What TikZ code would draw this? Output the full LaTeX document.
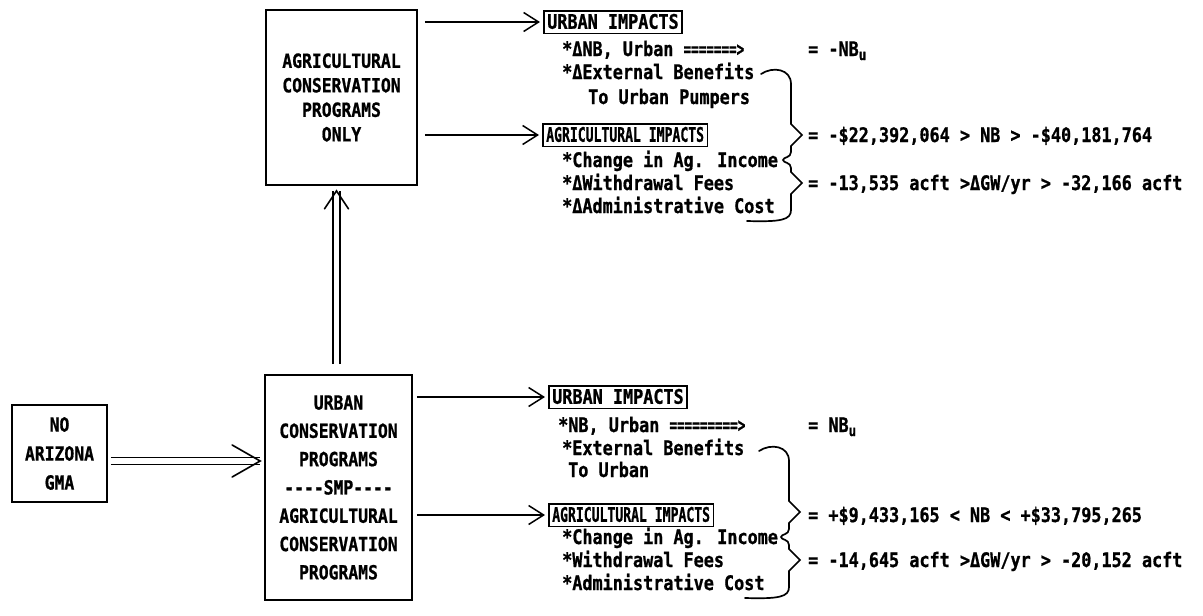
\documentclass[tikz,border=0pt]{standalone}
\usepackage{fontspec}
\usepackage{graphicx}
\usetikzlibrary{arrows.meta}
\newfontfamily\typeface{DejaVu Sans Mono}[FakeStretch=0.84, BoldFeatures={FakeBold=0.9}]
\newcommand\squeeze[2][0.75]{\scalebox{#1}[1]{#2}}
\newcommand\subu{\raisebox{-4pt}{\fontsize{15}{15}\selectfont u}}

\tikzset{
  every node/.style={font=\typeface\bfseries\fontsize{20}{24}\selectfont},
  bigbox/.style={draw, line width=1.7pt, align=center, inner sep=0pt},
  tag/.style={draw, line width=1.5pt, anchor=west, inner sep=3.5pt,
    text height=14.5pt, text depth=1pt},
  item/.style={anchor=base west, inner sep=0pt},
  arr/.style={line width=1.4pt,
    -{Straight Barb[length=15pt,width=19pt,line width=1.5pt]}},
  rail/.style={line width=1.4pt},
  chev/.style={line width=1.6pt, line cap=round},
  dbrace/.pic={
    \draw[line width=1.7pt, line cap=round]
      (0,0) .. controls (12,-8) and (30,-5) .. (30,10)
      -- (30,50) -- (41,61) -- (30,72) -- (30,78)
      .. controls (30,84) and (22,83) .. (22,86)
      .. controls (22,89) and (30,88) .. (30,94)
      -- (30,98) -- (41,109) -- (30,120) -- (30,136)
      .. controls (30,146) and (20,148) .. (-14,147);
  }
}

\begin{document}
\begin{tikzpicture}[x=1pt,y=-1pt]
\useasboundingbox (0,0) rectangle (1203,616);

% program boxes
\node[bigbox, minimum width=151pt, minimum height=175pt,
  font=\typeface\bfseries\fontsize{19.5}{24.5}\selectfont]
  (acp) at (341.5,97.5) {AGRICULTURAL\\CONSERVATION\\PROGRAMS\\ONLY};
\node[bigbox, minimum width=147pt, minimum height=225pt,
  font=\typeface\bfseries\fontsize{19.5}{28.3}\selectfont]
  (ucp) at (338.5,487.5) {URBAN\\CONSERVATION\\PROGRAMS\\----SMP----\\AGRICULTURAL\\CONSERVATION\\PROGRAMS};
\node[bigbox, minimum width=95pt, minimum height=97pt,
  font=\typeface\bfseries\fontsize{19.5}{29}\selectfont]
  (gma) at (59.5,453.5) {NO\\ARIZONA\\GMA};

% impacts of agricultural programs only
\node[tag] (ui1) at (543,22) {URBAN IMPACTS};
\node[item] (nb1) at (562,56) {*ΔNB, Urban \squeeze{=======>}};
\node[item] (eb1) at (562,79) {*ΔExternal Benefits};
\node[item] (tu1) at (588,104) {To Urban Pumpers};
\node[tag] (ag1) at (542,135) {\squeeze[0.78]{AGRICULTURAL IMPACTS}};
\node[item] (ci1) at (562,167) {*Change in Ag. Income};
\node[item] (wf1) at (562,190) {*ΔWithdrawal Fees};
\node[item] (ac1) at (562,213) {*ΔAdministrative Cost};
\node[item] (fa1) at (808,56) {= -NB\subu};
\node[item] (fb1) at (808,142) {= -\$22,392,064 > NB > -\$40,181,764};
\node[item] (fc1) at (808,190) {= -13,535 acft >ΔGW/yr > -32,166 acft};
\pic (br1) at (761,74) {dbrace};

% impacts of combined urban and agricultural programs
\node[tag] (ui2) at (548,397) {URBAN IMPACTS};
\node[item] (nb2) at (558,432) {*NB, Urban \squeeze{=========>}};
\node[item] (eb2) at (562,455) {*External Benefits};
\node[item] (tu2) at (568,477) {To Urban};
\node[tag] (ag2) at (548,515) {\squeeze[0.78]{AGRICULTURAL IMPACTS}};
\node[item] (ci2) at (562,544) {*Change in Ag. Income};
\node[item] (wf2) at (562,567) {*Withdrawal Fees};
\node[item] (ac2) at (562,590) {*Administrative Cost};
\node[item] (fa2) at (808,432) {= NB\subu};
\node[item] (fb2) at (808,522) {= +\$9,433,165 < NB < +\$33,795,265};
\node[item] (fc2) at (808,567) {= -14,645 acft >ΔGW/yr > -20,152 acft};
\pic (br2) at (759,451) {dbrace};

% single arrows to the impact labels
\draw[arr] ([xshift=7pt]acp.east |- ui1.west) -- ([xshift=-3pt]ui1.west);
\draw[arr] ([xshift=7pt]acp.east |- ag1.west) -- ([xshift=-3pt]ag1.west);
\draw[arr] ([xshift=4pt]ucp.east |- ui2.west) -- ([xshift=-3pt]ui2.west);
\draw[arr] ([xshift=4pt]ucp.east |- ag2.west) -- ([xshift=-3pt]ag2.west);

% double arrow from the GMA box
\coordinate (g1) at ([xshift=3pt,yshift=-7.5pt]gma.east);
\coordinate (g2) at ([xshift=-4pt]g1 -| ucp.west);
\draw[rail] ([yshift=3.5pt]g1) -- ([yshift=3.5pt]g2);
\draw[rail] ([yshift=-3.5pt]g1) -- ([yshift=-3.5pt]g2);
\draw[chev] ([shift={(-28pt,16pt)}]g2) -- (g2) -- ([shift={(-28pt,-16pt)}]g2);

% double arrow up to the agricultural-only box
\coordinate (v1) at ([xshift=-2pt,yshift=10pt]ucp.north);
\coordinate (v2) at ([yshift=-5pt]acp.south -| v1);
\draw[rail] ([xshift=-3.5pt]v1) -- ([xshift=-3.5pt]v2);
\draw[rail] ([xshift=3.5pt]v1) -- ([xshift=3.5pt]v2);
\draw[chev] ([shift={(-12pt,-18pt)}]v2) -- (v2) -- ([shift={(12pt,-18pt)}]v2);
\end{tikzpicture}
\end{document}
